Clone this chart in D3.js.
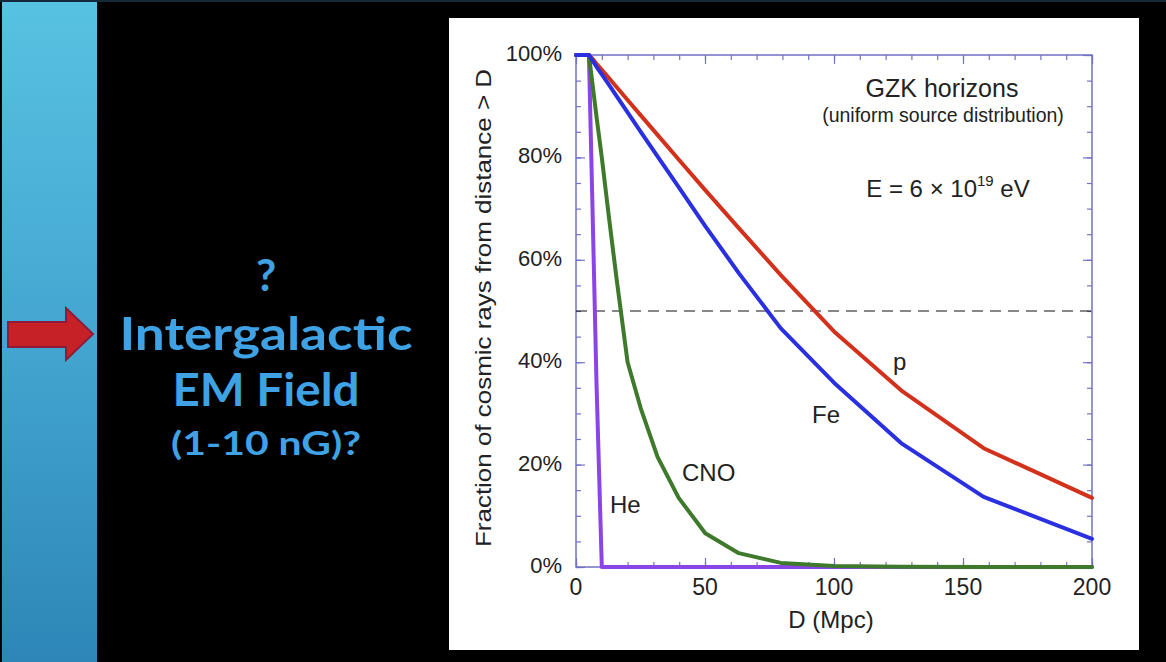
<!DOCTYPE html>
<html>
<head>
<meta charset="utf-8">
<script src="https://cdn.jsdelivr.net/npm/d3@7/dist/d3.min.js"></script>
<style>
  html, body { margin: 0; padding: 0; background: #000; }
  svg { display: block; }
</style>
</head>
<body>
<svg id="slide" width="1166" height="662"></svg>
<script>
// Distance grid (Mpc) and surviving fraction (%) per species
const distance = [0, 5.01, 6.31, 7.94, 10, 12.6, 15.8, 20, 25.1, 31.6, 39.8, 50.1, 63.1, 79.4, 100, 126, 158, 200];
const protonFrac = [100, 100, 99.3, 98.3, 97.1, 95.6, 93.7, 91.2, 88.2, 84.4, 79.6, 73.6, 66.2, 57, 46, 34.5, 23.2, 13.5];
const ironFrac   = [100, 100, 99, 97.7, 96.2, 94.3, 91.9, 88.8, 85, 80.2, 74.2, 66.6, 57.4, 46.6, 36, 24.2, 13.7, 5.5];
const cnoFrac    = [100, 100, 94.7, 88, 80, 69, 56, 40, 31, 21.5, 13.5, 6.6, 2.7, 0.8, 0.2, 0.05, 0, 0];
const heliumFrac = [100, 100, 72, 36, 0, 0, 0, 0, 0, 0, 0, 0, 0, 0, 0, 0, 0, 0];

const seriesNames = ["He", "CNO", "p", "Fe"];
const seriesColors = ["#8b44e6", "#3f7a2c", "#d2321c", "#2a30df"];

const xTicks = [0, 50, 100, 150, 200];
const yTicks = [0, 20, 40, 60, 80, 100];

const svg = d3.select("#slide");

// ---- slide background ----
const defs = svg.append("defs");
const grad = defs.append("linearGradient").attr("id", "sidebar")
  .attr("x1", 0).attr("y1", 0).attr("x2", 0).attr("y2", 1);
grad.append("stop").attr("offset", "0%").attr("stop-color", "#58c2e2");
grad.append("stop").attr("offset", "55%").attr("stop-color", "#42a3cf");
grad.append("stop").attr("offset", "100%").attr("stop-color", "#2d86b7");

svg.append("rect").attr("x", 0).attr("y", 0).attr("width", 1166).attr("height", 662).attr("fill", "#000");
svg.append("rect").attr("x", 2).attr("y", 0).attr("width", 95).attr("height", 662).attr("fill", "url(#sidebar)");
svg.append("rect").attr("x", 0).attr("y", 0).attr("width", 1166).attr("height", 2).attr("fill", "#16293a");

// red arrow pointing at the text
svg.append("path")
  .attr("d", "M8,322 L66,322 L66,308 L93,334 L66,360 L66,347 L8,347 Z")
  .attr("fill", "#c62127").attr("stroke", "#8e1b3c").attr("stroke-width", 2);

// side text
const sideText = [
  { t: "?", y: 291, size: 44, len: null },
  { t: "Intergalactic", y: 350, size: 46, len: 293 },
  { t: "EM Field", y: 406, size: 46, len: 187 },
  { t: "(1-10 nG)?", y: 455, size: 33, len: 190 }
];
sideText.forEach(d => {
  const el = svg.append("text")
    .attr("x", 266).attr("y", d.y)
    .attr("text-anchor", "middle")
    .attr("font-family", "Lato, 'Open Sans', sans-serif")
    .attr("font-weight", 700)
    .attr("font-size", d.size)
    .attr("fill", "#3ea2e4")
    .text(d.t);
  if (d.len) el.attr("textLength", d.len).attr("lengthAdjust", "spacingAndGlyphs");
});

// ---- chart panel ----
svg.append("rect").attr("x", 449).attr("y", 18).attr("width", 690).attr("height", 632).attr("fill", "#fff");

const x = d3.scaleLinear().domain([0, 200]).range([576, 1092]);
const y = d3.scaleLinear().domain([0, 100]).range([567, 55]);

const frameColor = "#7272c6";
const font = "'Liberation Sans', Arial, Helvetica, sans-serif";

const g = svg.append("g");

// inward ticks on all four sides
function tickAxis(axisFn, scale, values, size, tx, ty) {
  const a = g.append("g").attr("transform", `translate(${tx},${ty})`)
    .call(axisFn(scale).tickValues(values).tickSize(-size).tickFormat(""));
  a.select(".domain").remove();
  a.selectAll("line").attr("stroke", frameColor).attr("stroke-width", 1.2);
}
const xMinor = d3.range(0, 201, 10);
const yMinor = d3.range(0, 101, 5);
tickAxis(d3.axisBottom, x, xMinor, 5, 0, y(0));
tickAxis(d3.axisBottom, x, xTicks, 9, 0, y(0));
tickAxis(d3.axisTop, x, xMinor, 5, 0, y(100));
tickAxis(d3.axisTop, x, xTicks, 9, 0, y(100));
tickAxis(d3.axisLeft, y, yMinor, 5, x(0), 0);
tickAxis(d3.axisLeft, y, yTicks, 9, x(0), 0);
tickAxis(d3.axisRight, y, yMinor, 5, x(200), 0);
tickAxis(d3.axisRight, y, yTicks, 9, x(200), 0);

// frame
g.append("rect")
  .attr("x", x(0)).attr("y", y(100))
  .attr("width", x(200) - x(0)).attr("height", y(0) - y(100))
  .attr("fill", "none").attr("stroke", frameColor).attr("stroke-width", 1.5);

// tick labels
g.append("g").selectAll("text").data(xTicks).join("text")
  .attr("x", d => x(d)).attr("y", 595)
  .attr("text-anchor", "middle")
  .attr("font-family", font).attr("font-size", 23).attr("fill", "#222")
  .text(d => d);
g.append("g").selectAll("text").data(yTicks).join("text")
  .attr("x", 562).attr("y", d => y(d) + 6)
  .attr("text-anchor", "end")
  .attr("font-family", font).attr("font-size", 22).attr("fill", "#222")
  .text(d => d + "%");

// axis titles
g.append("text")
  .attr("x", 831).attr("y", 628)
  .attr("text-anchor", "middle")
  .attr("font-family", font).attr("font-size", 24).attr("fill", "#222")
  .text("D (Mpc)");
g.append("text")
  .attr("transform", "translate(491,308) rotate(-90)")
  .attr("text-anchor", "middle")
  .attr("font-family", font).attr("font-size", 22).attr("fill", "#222")
  .attr("textLength", 478).attr("lengthAdjust", "spacingAndGlyphs")
  .text("Fraction of cosmic rays from distance > D");

// 50% reference line
g.append("line")
  .attr("x1", x(0)).attr("x2", x(200))
  .attr("y1", y(50)).attr("y2", y(50))
  .attr("stroke", "#111").attr("stroke-width", 1.2)
  .attr("stroke-dasharray", "11,7");

// curves
const allSeries = [heliumFrac, cnoFrac, protonFrac, ironFrac];
const line = d3.line().x(d => x(d[0])).y(d => y(d[1]));
allSeries.forEach((vals, i) => {
  g.append("path")
    .datum(distance.map((d, j) => [d, vals[j]]))
    .attr("d", line)
    .attr("fill", "none")
    .attr("stroke", seriesColors[i])
    .attr("stroke-width", 4)
    .attr("stroke-linejoin", "round")
    .attr("stroke-linecap", "round");
});

// curve labels
const curveLabels = [
  { t: "He", x: 610, y: 513 },
  { t: "CNO", x: 682, y: 481 },
  { t: "p", x: 893, y: 370 },
  { t: "Fe", x: 812, y: 423 }
];
g.append("g").selectAll("text").data(curveLabels).join("text")
  .attr("x", d => d.x).attr("y", d => d.y)
  .attr("font-family", font).attr("font-size", 24).attr("fill", "#222")
  .text(d => d.t);

// annotation block
g.append("text")
  .attr("x", 942).attr("y", 97).attr("text-anchor", "middle")
  .attr("font-family", font).attr("font-size", 25).attr("fill", "#222")
  .text("GZK horizons");
g.append("text")
  .attr("x", 943).attr("y", 122).attr("text-anchor", "middle")
  .attr("font-family", font).attr("font-size", 19.5).attr("fill", "#222")
  .text("(uniform source distribution)");
const eText = g.append("text")
  .attr("x", 948).attr("y", 197).attr("text-anchor", "middle")
  .attr("font-family", font).attr("font-size", 24).attr("fill", "#222");
eText.append("tspan").text("E = 6 \u00d7 10");
eText.append("tspan").attr("font-size", 15).attr("dy", -11).text("19");
eText.append("tspan").attr("dy", 11).text(" eV");
</script>
</body>
</html>
